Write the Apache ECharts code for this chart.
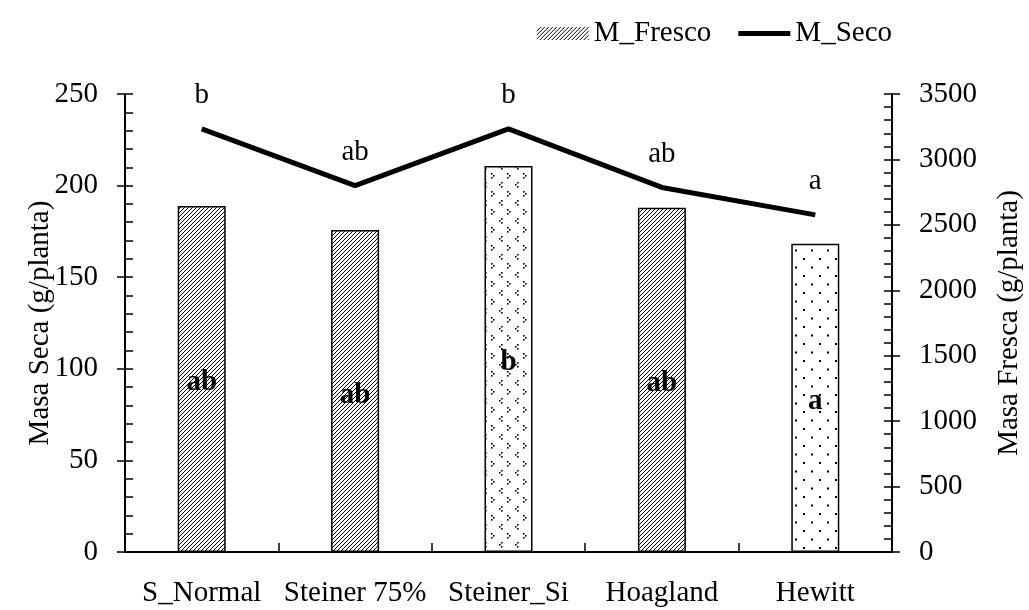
<!DOCTYPE html>
<html>
<head>
<meta charset="utf-8">
<script src="https://cdn.jsdelivr.net/npm/echarts@6/dist/echarts.min.js"></script>
<style>html,body{margin:0;padding:0;background:#fff}#c{width:1029px;height:610px}</style>
</head>
<body>
<div id="c"></div>
<script>
const categories = ['S_Normal', 'Steiner 75%', 'Steiner_Si', 'Hoagland', 'Hewitt'];
const masaFresca = [2645, 2460, 2950, 2630, 2355];
const masaSeca = [231, 200, 231, 199, 184];
const lettersFresca = ['ab', 'ab', 'b', 'ab', 'a'];
const lettersSeca = ['b', 'ab', 'b', 'ab', 'a'];
const patternKind = ['hatch', 'hatch', 'chevron', 'hatch', 'dots'];
const leftTicks = [0, 50, 100, 150, 200, 250];
const rightTicks = [0, 500, 1000, 1500, 2000, 2500, 3000, 3500];

function makeHatch() {
  const c = document.createElement('canvas'); c.width = 4; c.height = 4;
  const g = c.getContext('2d');
  g.fillStyle = '#fff'; g.fillRect(0, 0, 4, 4);
  g.strokeStyle = '#000'; g.lineWidth = 1;
  for (let o = -4; o <= 4; o += 4) { g.beginPath(); g.moveTo(o, 4); g.lineTo(o + 4, 0); g.stroke(); }
  return c;
}
function makeChevron() {
  const c = document.createElement('canvas'); c.width = 16; c.height = 18;
  const g = c.getContext('2d');
  g.fillStyle = '#fff'; g.fillRect(0, 0, 16, 18);
  g.fillStyle = '#000';
  function lt(x, y) { g.fillRect(x + 2, y, 1.6, 1.6); g.fillRect(x, y + 2, 1.6, 1.6); g.fillRect(x + 2, y + 4, 1.6, 1.6); }
  function gt(x, y) { g.fillRect(x, y, 1.6, 1.6); g.fillRect(x + 2, y + 2, 1.6, 1.6); g.fillRect(x, y + 4, 1.6, 1.6); }
  lt(3, 2); gt(11, 11);
  return c;
}
function makeDots() {
  const c = document.createElement('canvas'); c.width = 16; c.height = 17;
  const g = c.getContext('2d');
  g.fillStyle = '#fff'; g.fillRect(0, 0, 16, 17);
  g.fillStyle = '#000';
  g.fillRect(3, 3, 2, 2); g.fillRect(11, 11.5, 2, 2);
  return c;
}
const patterns = {
  hatch: { image: makeHatch(), repeat: 'repeat' },
  chevron: { image: makeChevron(), repeat: 'repeat' },
  dots: { image: makeDots(), repeat: 'repeat' }
};

const font = 'Liberation Serif';
const fs = 29;
const chart = echarts.init(document.getElementById('c'), null, { renderer: 'canvas' });

const barData = masaFresca.map((v, i) => ({
  value: v,
  itemStyle: { color: patterns[patternKind[i]] },
  label: { formatter: lettersFresca[i] }
}));
const letterData = masaSeca.map((v, i) => ({ value: v, label: { formatter: lettersSeca[i] } }));

const axisCommon = {
  type: 'value',
  splitLine: { show: false },
  axisLine: { show: true, lineStyle: { color: '#000', width: 2 } },
  axisLabel: { color: '#000', fontFamily: font, fontSize: fs, margin: 27, formatter: v => String(v) },
  nameTextStyle: { color: '#000', fontFamily: font, fontSize: fs },
  nameLocation: 'middle',
  nameMoveOverlap: false
};

chart.setOption({
  animation: false,
  backgroundColor: '#fff',
  textStyle: { fontFamily: font },
  legend: {
    right: 132, top: 14,
    itemWidth: 52, itemHeight: 13, itemGap: 27,
    textStyle: { color: '#000', fontFamily: font, fontSize: fs },
    data: [
      { name: 'M_Fresco', icon: 'rect', itemStyle: { color: patterns.hatch, borderWidth: 0 } },
      { name: 'M_Seco', icon: 'path://M0,0L52,0L52,5L0,5Z', itemStyle: { color: '#000', borderWidth: 0 } }
    ]
  },
  grid: { left: 125, right: 137, top: 94, bottom: 58, outerBoundsMode: 'none', containLabel: false },
  xAxis: {
    type: 'category',
    data: categories,
    boundaryGap: true,
    axisLine: { lineStyle: { color: '#000', width: 2 } },
    axisTick: { show: true, inside: true, length: 9, lineStyle: { color: '#000', width: 1.5 } },
    axisLabel: { color: '#000', fontFamily: font, fontSize: fs, margin: 27, interval: 0 }
  },
  yAxis: [
    Object.assign({}, axisCommon, {
      position: 'left', min: leftTicks[0], max: leftTicks[leftTicks.length - 1], interval: 50,
      name: 'Masa Seca (g/planta)', nameGap: 70,
      axisTick: { show: true, inside: true, length: 8, lineStyle: { color: '#000', width: 1.5 } },
      minorTick: { show: true, splitNumber: 5, length: 8, lineStyle: { color: '#000', width: 1.5 } }
    }),
    Object.assign({}, axisCommon, {
      position: 'right', min: rightTicks[0], max: rightTicks[rightTicks.length - 1], interval: 500,
      name: 'Masa Fresca (g/planta)', nameGap: 103,
      axisTick: { show: true, inside: true, length: 8, lineStyle: { color: '#000', width: 1.5 } },
      minorTick: { show: true, splitNumber: 5, length: 8, lineStyle: { color: '#000', width: 1.5 } }
    }),
    {
      type: 'value', position: 'left', min: leftTicks[0], max: leftTicks[leftTicks.length - 1], interval: 50,
      splitLine: { show: false }, axisLabel: { show: false }, axisLine: { show: false },
      axisTick: { show: true, inside: false, length: 8, lineStyle: { color: '#000', width: 1.5 } }
    },
    {
      type: 'value', position: 'right', min: rightTicks[0], max: rightTicks[rightTicks.length - 1], interval: 500,
      splitLine: { show: false }, axisLabel: { show: false }, axisLine: { show: false },
      axisTick: { show: true, inside: false, length: 8, lineStyle: { color: '#000', width: 1.5 } }
    }
  ],
  series: [
    {
      name: 'M_Fresco', type: 'bar', yAxisIndex: 1, barWidth: 48,
      itemStyle: { color: patterns.hatch, borderColor: '#000', borderWidth: 1.5 },
      label: { show: true, position: 'inside', offset: [0, 4], color: '#000', fontFamily: font, fontWeight: 'bold', fontSize: 29 },
      data: barData
    },
    {
      name: 'M_Seco', type: 'line', yAxisIndex: 0, symbol: 'none', showSymbol: false,
      lineStyle: { color: '#000', width: 5 },
      itemStyle: { color: '#000' },
      data: masaSeca
    },
    {
      name: 'letrasSeco', type: 'scatter', yAxisIndex: 0, symbolSize: 0, silent: true,
      itemStyle: { color: '#000', opacity: 1 },
      label: { show: true, position: 'top', distance: 19, color: '#000', opacity: 1, fontFamily: font, fontSize: fs },
      data: letterData
    }
  ]
});
</script>
</body>
</html>
